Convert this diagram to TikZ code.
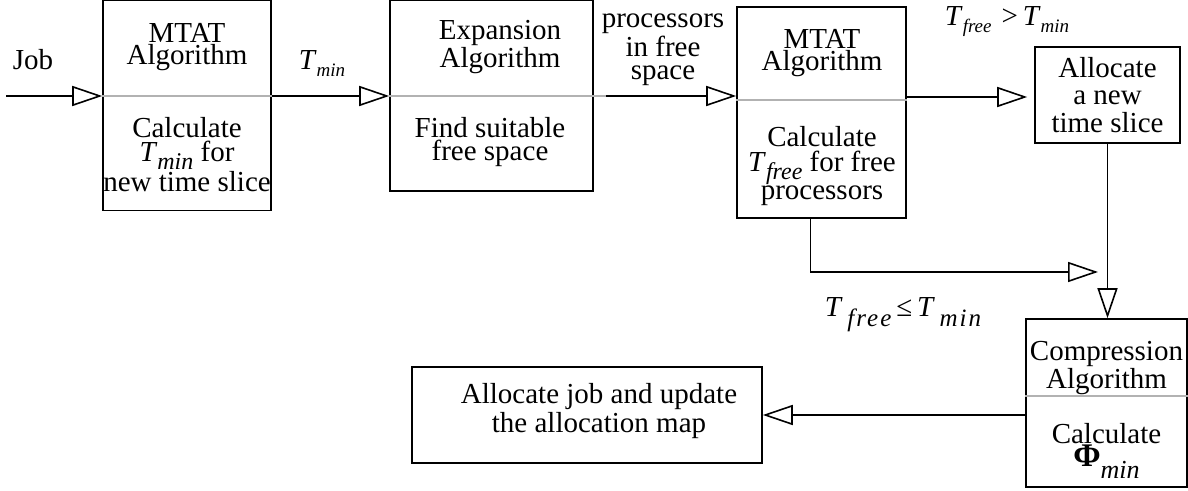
\documentclass[tikz,border=0pt]{standalone}
\usepackage{fontspec}
\setmainfont{Liberation Serif}
\usetikzlibrary{positioning}
\usetikzlibrary{arrows.meta}

% lowered italic subscripts
\newcommand\lowsub[2][3.5pt]{\raisebox{-#1}{\fontsize{9.5}{9.5}\selectfont\itshape #2}}
\newcommand\boxsub[1]{\raisebox{-4pt}{\fontsize{12}{12}\selectfont\itshape #1}}
\newcommand\widesub[1]{\raisebox{-5pt}{\fontsize{12.5}{12.5}\selectfont\itshape\addfontfeatures{LetterSpace=8}#1}}

\begin{document}
\begin{tikzpicture}[
    x=0.5pt, y=-0.5pt,
    box/.style = {draw, line width=0.8pt, inner sep=0pt},
    txt/.style = {align=center, inner sep=0pt, font=\fontsize{14.5}{11.5}\selectfont},
    tight/.style = {font=\fontsize{14.5}{10}\selectfont},
    loose/.style = {font=\fontsize{14.5}{13.75}\selectfont},
    flow/.style = {-{Triangle[open, length=15pt, width=10pt]}, line width=0.8pt},
    divider/.style = {draw=black!30, line width=0.6pt},
    ]
    \useasboundingbox (0,0) rectangle (1188,491);

    % boxes
    \node[box, minimum width=84pt, minimum height=105pt] (mtat1) at (187,105.5) {};
    \node[box, minimum width=101.5pt, minimum height=95.5pt] (expand) at (491.5,95.5) {};
    \node[box, minimum width=84.5pt, minimum height=105.5pt] (mtat2) at (821.5,112.5) {};
    \node[box, txt, loose, minimum width=72.5pt, minimum height=48pt] (newslice) at (1107.5,95)
      {Allocate\\a new\\time slice};
    \node[box, minimum width=80.5pt, minimum height=84pt] (compress) at (1106.5,403) {};
    \node[box, minimum width=175pt, minimum height=48pt] (alloc) at (587,415) {};

    % row levels of the dividers
    \coordinate (row1) at (0,96);
    \coordinate (row2) at (0,100);
    \coordinate (row3) at (0,396);
    \coordinate (expout) at (606,96);

    \draw[divider] (mtat1.west |- row1) -- (mtat1.east |- row1);
    \draw[divider] (expand.west |- row1) -- (expout);
    \draw[divider] (mtat2.west |- row2) -- (mtat2.east |- row2);
    \draw[divider] (compress.west |- row3) -- (compress.east |- row3);

    % box texts
    \node[txt, tight] (mtat1a) at (187,47) {MTAT\\Algorithm};
    \node[txt, font=\fontsize{14.5}{12}\selectfont] (mtat1b) at (187,155)
      {Calculate\\\textit{T}\boxsub{min} for\\new time slice};
    \node[txt, tight] (expanda) at (500,47) {Expansion\\Algorithm};
    \node[txt] (expandb) at (490,142) {Find suitable\\free space};
    \node[txt, tight] (mtat2a) at (822,53) {MTAT\\Algorithm};
    \node[txt, font=\fontsize{14.5}{12.5}\selectfont] (mtat2b) at (822,166)
      {Calculate\\\textit{T}\boxsub{free} for free\\processors};
    \node[txt, font=\fontsize{14.5}{8.5}\selectfont] (compressa) at (1106.5,368)
      {Compression\\Algorithm};
    \node[txt] (compressb) at (1106.5,451)
      {Calculate\\{\fontsize{16.5}{16.5}\selectfont\textbf{Φ}}\raisebox{-6pt}{\fontsize{13}{13}\selectfont\itshape min}};
    \node[txt] (alloctxt) at (599,411) {Allocate job and update\\the allocation map};

    % labels
    \node[txt] (job) at (33,60) {Job};
    \node[txt] (tmin) at (322,64) {\textit{T}\lowsub{min}};
    \node[txt] (procs) at (663,50) {processors\\in free\\space};
    \node[txt] (greater) at (1007,22) {\textit{T}\lowsub{free}\hspace{5pt}>\,\textit{T}\lowsub{min}};
    \node[txt] (lesseq) at (903,315) {\textit{T}\,\widesub{free}\,≤\,\textit{T}\,\widesub{min}};

    % connectors
    \coordinate (jobin) at (6,96);
    \coordinate (merge) at (1107,272);
    \draw[flow] (jobin) -- (jobin -| mtat1.west);
    \draw[flow] (mtat1.east |- row1) -- (expand.west |- row1);
    \draw[flow] (expout) -- (expout -| mtat2.west);
    \draw[flow, shorten >=3.5pt] (mtat2.east |- 0,97) -- (newslice.west |- 0,97);
    \draw[flow, shorten >=4.5pt] ([xshift=-5.5pt]mtat2.south) |- (merge);
    \draw[flow] (newslice.south) -- (newslice.south |- compress.north);
    \draw[flow] (compress.west |- alloc.east) -- (alloc.east);
\end{tikzpicture}
\end{document}
